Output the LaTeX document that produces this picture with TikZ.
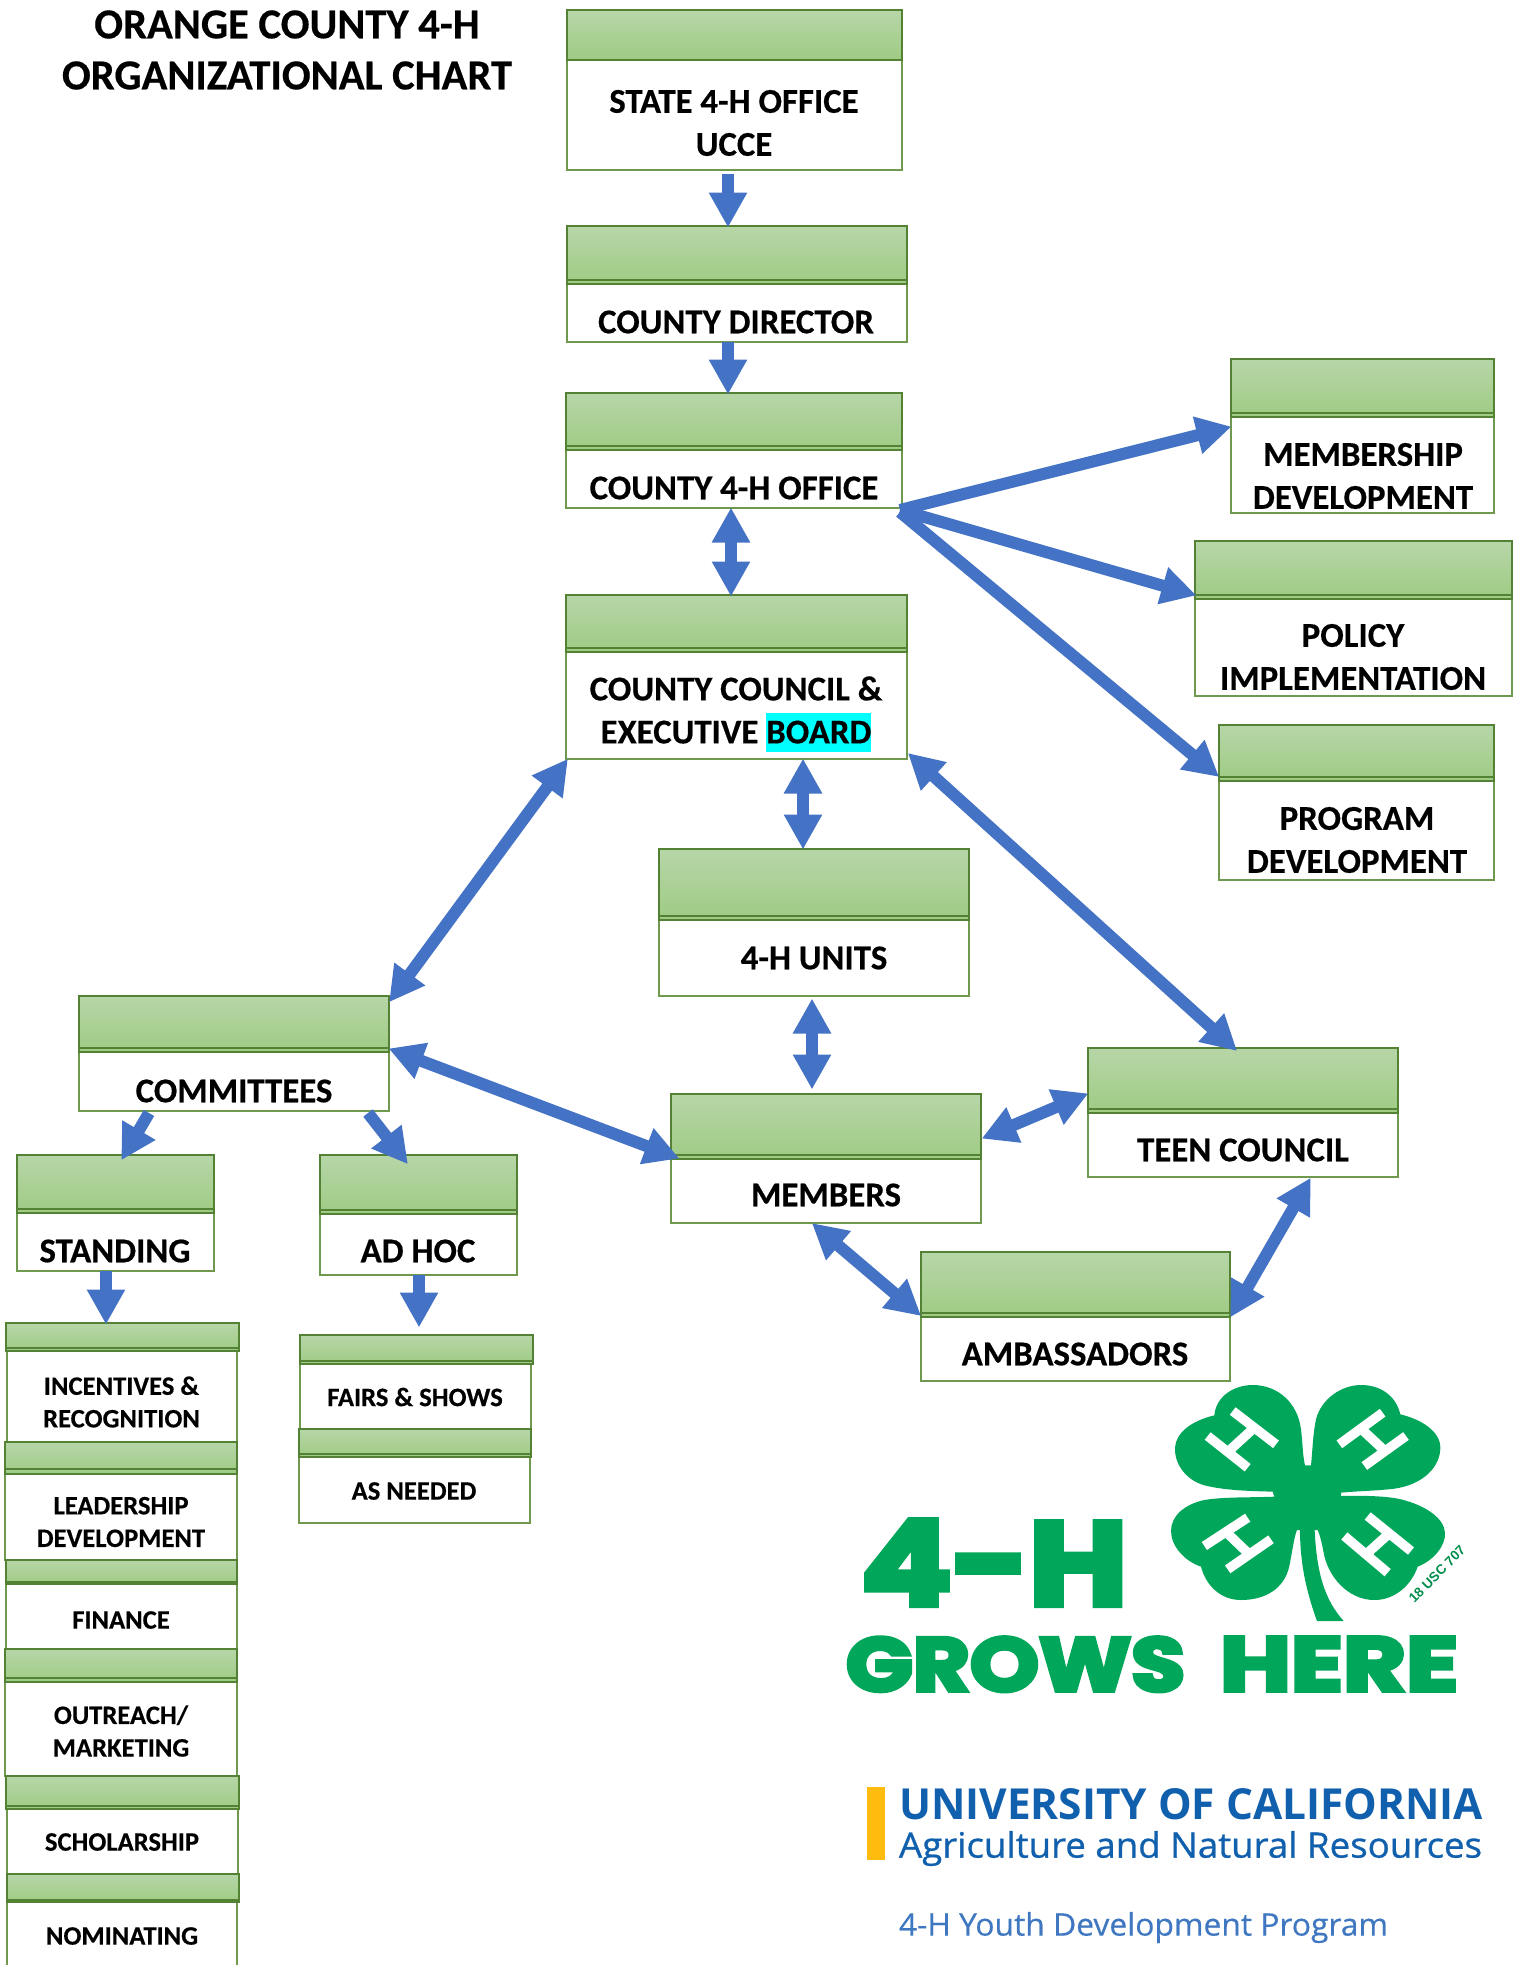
\documentclass[tikz,border=0pt]{standalone}
\usepackage{fontspec}
\usepackage{graphicx}
\setmainfont[BoldFeatures={FakeBold=0.4}]{Carlito}
\newfontfamily\logof[BoldFeatures={FakeBold=5}]{Poppins}
\newfontfamily\ucf{Open Sans}
\newfontfamily\ucm[FakeBold=0.8]{Open Sans}
\newfontfamily\ucs[FakeBold=0.4]{Open Sans}
\newfontfamily\usc{Liberation Sans}
\usetikzlibrary{arrows.meta}
\definecolor{hdtop}{HTML}{B7D6A8}
\definecolor{hdbot}{HTML}{9FCB84}
\definecolor{hdline}{HTML}{548235}
\definecolor{bdline}{HTML}{6F9A4E}
\definecolor{arrowblue}{HTML}{4472C4}
\definecolor{hlcyan}{HTML}{00FFFF}
\definecolor{fourh}{HTML}{00A65A}
\definecolor{ucblue}{HTML}{1160AE}
\definecolor{ucgold}{HTML}{FFBC0F}
\definecolor{ucsoft}{HTML}{3F78C0}
\tikzset{
  headbox/.style={rectangle,draw=hdline,line width=1.4pt,top color=hdtop,bottom color=hdbot,inner sep=0pt,outer sep=0pt,anchor=north west},
  bodybox/.style={rectangle,draw=bdline,line width=1.4pt,fill=white,inner sep=0pt,outer sep=0pt,anchor=north west},
  headline/.style={draw=hdline,line width=1.4pt},
  lbl/.style={inner sep=0pt,align=center,text=black,font=\fontsize{34.8}{43}\selectfont\bfseries},
  lblsmall/.style={inner sep=0pt,align=center,text=black,font=\fontsize{26.6}{32.6}\selectfont\bfseries},
  lbltitle/.style={inner sep=0pt,align=center,text=black,font=\fontsize{42.6}{51}\selectfont\bfseries},
  blockone/.style={draw=arrowblue,line width=12pt,-{Triangle[width=36pt,length=35pt,sep=-1.5pt]},arrowblue},
  blocktwo/.style={draw=arrowblue,line width=12pt,{Triangle[width=36pt,length=35pt,sep=-1.5pt]}-{Triangle[width=36pt,length=35pt,sep=-1.5pt]},arrowblue},
  logotext/.style={inner sep=0pt,outer sep=0pt,anchor=north west},
  leaf/.style={fill=fourh,draw=none},
  hbar/.style={draw=white,line width=9.5pt},
}
% name, hx1, hx2, y1, ya, yb, bx1, bx2, y3
\newcommand{\orgbox}[9]{%
  \pgfmathsetmacro\obHW{#3-#2}\pgfmathsetmacro\obHH{#6-#4}%
  \pgfmathsetmacro\obBW{#8-#7}\pgfmathsetmacro\obBH{#9-#6}\pgfmathsetmacro\obD{#6-#5}%
  \node[bodybox,minimum width=\obBW pt,minimum height=\obBH pt] (#1) at (#7,#6) {};
  \node[headbox,minimum width=\obHW pt,minimum height=\obHH pt] (#1H) at (#2,#4) {};
  \draw[headline] ([yshift=\obD pt]#1H.south west) -- ([yshift=\obD pt]#1H.south east);
}
\begin{document}
\begin{tikzpicture}[x=1pt,y=-1pt]
\path[use as bounding box,clip] (0,0) rectangle (1521,1965);
\fill[white] (0,0) rectangle (1521,1965);

\begin{scope}[shift={(1,1)}]
\node[lbltitle] (title) at (286,49) {ORANGE COUNTY 4-H\\ORGANIZATIONAL CHART};

\orgbox{state}{566}{901}{9}{59}{59}{566}{901}{169}
\orgbox{dir}{566}{906}{225}{279}{283}{566}{906}{341}
\orgbox{office}{565}{901}{392}{445}{449}{565}{901}{507}
\orgbox{council}{565}{906}{594}{647}{651}{565}{906}{758}
\orgbox{units}{658}{968}{848}{915}{919}{658}{968}{995}
\orgbox{comm}{78}{388}{995}{1047}{1051}{78}{388}{1110}
\orgbox{teen}{1087}{1397}{1047}{1108}{1112}{1087}{1397}{1176}
\orgbox{members}{670}{980}{1093}{1154}{1158}{670}{980}{1222}
\orgbox{amb}{920}{1229}{1251}{1312}{1316}{920}{1229}{1380}
\orgbox{standing}{16}{213}{1154}{1208}{1212}{16}{213}{1270}
\orgbox{adhoc}{319}{516}{1154}{1209}{1213}{319}{516}{1274}
\orgbox{membership}{1230}{1493}{358}{412}{416}{1230}{1493}{512}
\orgbox{policy}{1194}{1511}{540}{594}{598}{1194}{1511}{695}
\orgbox{program}{1218}{1493}{724}{776}{780}{1218}{1493}{879}
% left column
\orgbox{inc}{5}{238}{1322}{1347}{1350}{6}{236}{1441}
\orgbox{lead}{4}{236}{1441}{1468}{1473}{4}{236}{1559}
\orgbox{fin}{5}{236}{1559}{1581}{1583}{5}{236}{1648}
\orgbox{out}{4}{236}{1648}{1677}{1681}{4}{236}{1775}
\orgbox{sch}{5}{238}{1775}{1805}{1808}{6}{237}{1873}
\orgbox{nom}{6}{238}{1873}{1899}{1901}{6}{236}{1985}
\orgbox{fairs}{299}{532}{1334}{1360}{1363}{299}{530}{1428}
\orgbox{asneeded}{298}{530}{1428}{1453}{1456}{298}{529}{1522}

\node[lbl] (stateT) at (733,122) {STATE 4-H OFFICE\\UCCE};
\node[lbl] (dirT) at (735,321) {COUNTY DIRECTOR};
\node[lbl] (officeT) at (733,487) {COUNTY 4-H OFFICE};
\node[lbl] (councilT) at (735,709) {COUNTY COUNCIL \&\\EXECUTIVE \smash{\setlength{\fboxsep}{0pt}\colorbox{hlcyan}{\rule[-9pt]{0pt}{39pt}BOARD}}};
\node[lbl] (unitsT) at (813,957) {4-H UNITS};
\node[lbl] (commT) at (233,1090) {COMMITTEES};
\node[lbl] (standingT) at (114,1250) {STANDING};
\node[lbl] (adhocT) at (417,1250) {AD HOC};
\node[lbl] (teenT) at (1242,1149) {TEEN COUNCIL};
\node[lbl] (membersT) at (825,1194) {MEMBERS};
\node[lbl] (ambT) at (1074,1353) {AMBASSADORS};
\node[lbl] (membershipT) at (1362,475) {MEMBERSHIP\\DEVELOPMENT};
\node[lbl] (policyT) at (1352,656) {POLICY\\IMPLEMENTATION};
\node[lbl] (programT) at (1356,839) {PROGRAM\\DEVELOPMENT};
\node[lblsmall] (incT) at (120.5,1401) {INCENTIVES \&\\RECOGNITION};
\node[lblsmall] (leadT) at (120,1521) {LEADERSHIP\\DEVELOPMENT};
\node[lblsmall] (finT) at (120,1619) {FINANCE};
\node[lblsmall] (outT) at (120,1730) {OUTREACH/\\MARKETING};
\node[lblsmall] (schT) at (121,1841) {SCHOLARSHIP};
\node[lblsmall] (nomT) at (121,1935) {NOMINATING};
\node[lblsmall] (fairsT) at (414,1396) {FAIRS \& SHOWS};
\node[lblsmall] (asneededT) at (413,1490) {AS NEEDED};

% connectors
\draw[blockone] ([xshift=-6.5pt,yshift=-4pt]state.south) -- ([xshift=-9pt]dirH.north);
\draw[blockone] ([xshift=-9pt]dir.south) -- ([xshift=-6pt]officeH.north);
\draw[blocktwo] ([xshift=-3pt,yshift=-1pt]office.south) -- ([xshift=-5.5pt]councilH.north);
\draw[blockone] ([xshift=-2pt,yshift=-2pt]office.south east) -- ([xshift=-1pt,yshift=-39pt]membershipH.west);
\draw[blockone] ([xshift=-2pt,yshift=-2pt]office.south east) -- ([yshift=4pt]policyH.south west);
\draw[blockone] ([xshift=-2pt,yshift=-4pt]office.south east) -- ([xshift=-1pt,yshift=5pt]programH.south west);
\draw[blocktwo] ([xshift=1pt,yshift=-1pt]council.south west) -- ([xshift=1pt,yshift=-5pt]commH.north east);
\draw[blocktwo] ([xshift=66.5pt,yshift=-1pt]council.south) -- ([xshift=-11pt,yshift=1pt]unitsH.north);
\draw[blocktwo] ([xshift=-2pt,yshift=-4pt]units.south) -- ([xshift=-14pt,yshift=6pt]membersH.north);
\draw[blocktwo] ([xshift=1pt,yshift=3pt]commH.south east) -- ([xshift=7pt,yshift=1pt]membersH.south west);
\draw[blockone] ([xshift=134pt,yshift=-2pt]comm.south) -- ([xshift=-11.5pt,yshift=-8pt]adhocH.north);
\draw[blockone] ([xshift=-85pt,yshift=-2pt]comm.south) -- ([xshift=6.5pt,yshift=-4pt]standingH.north);
\draw[blockone] ([xshift=-9.5pt]standing.south) -- ([xshift=-16.5pt]incH.north);
\draw[blockone] ([xshift=.5pt]adhoc.south) -- ([xshift=2.5pt,yshift=9pt]fairsH.north);
\draw[blocktwo] ([xshift=2pt,yshift=-11.5pt]membersH.east) -- ([xshift=-1pt,yshift=-13.5pt]teenH.west);
\draw[blocktwo] ([xshift=-13pt,yshift=-1pt]members.south) -- ([xshift=-1pt,yshift=-30.5pt]ambH.west);
\draw[blocktwo] ([xshift=67pt,yshift=-2pt]teen.south) -- ([xshift=1pt,yshift=-31.5pt]ambH.east);
\draw[blocktwo] ([xshift=2pt,yshift=-48.5pt]council.east) -- ([xshift=-7pt,yshift=-2pt]teenH.north);
\end{scope}

% clover
\begin{scope}[shift={(1161,1376)},x=.33333pt,y=-.33333pt]
\fill[leaf] (432,268) -- (450,268) -- (540,350) -- (540,360) -- (470,462) -- (408,462) -- (340,362) -- (335,347) -- cycle;
\fill[leaf] (440,355) -- (335,347) .. controls (280,345) and (200,345) .. (130,328) .. controls (70,310) and (40,260) .. (42,215) .. controls (45,170) and (90,135) .. (160,118) .. controls (165,60) and (220,27) .. (275,27) .. controls (350,27) and (410,80) .. (420,160) .. controls (425,200) and (425,240) .. (432,268) -- cycle;
\fill[leaf] (440,355) -- (450,268) .. controls (455,220) and (455,180) .. (465,130) .. controls (480,70) and (540,27) .. (600,27) .. controls (660,27) and (705,60) .. (718,115) .. controls (780,130) and (838,165) .. (838,215) .. controls (838,270) and (790,325) .. (700,338) .. controls (640,345) and (590,345) .. (540,350) -- cycle;
\fill[leaf] (440,355) -- (540,360) .. controls (600,358) and (680,360) .. (720,370) .. controls (800,390) and (850,430) .. (852,470) .. controls (855,510) and (815,555) .. (770,572) .. controls (750,630) and (700,672) .. (640,672) .. controls (560,672) and (500,600) .. (488,530) .. controls (482,500) and (478,480) .. (470,462) -- cycle;
\fill[leaf] (440,355) -- (408,462) .. controls (400,480) and (395,520) .. (385,570) .. controls (370,640) and (310,672) .. (240,672) .. controls (180,672) and (135,630) .. (120,572) .. controls (70,555) and (30,510) .. (30,465) .. controls (30,420) and (70,385) .. (130,372) .. controls (190,362) and (270,365) .. (340,362) -- cycle;
\fill[leaf] (416,440) .. controls (418,500) and (415,590) .. (468,735) -- (548,735) .. controls (490,670) and (465,590) .. (460,440) -- cycle;
\draw[hbar] (140,180) -- (260,275) (215,105) -- (345,205) (200,228) -- (280,155);
\draw[hbar] (535,205) -- (665,110) (610,270) -- (735,180) (600,158) -- (672,225);
\draw[hbar] (130,510) -- (260,425) (200,580) -- (330,490) (195,468) -- (265,535);
\draw[hbar] (550,480) -- (680,590) (620,420) -- (750,525) (615,535) -- (685,472);
\end{scope}
\node[inner sep=0pt,text=fourh!85!black,rotate=45] (uscT) at (1437,1574) {\usc\fontsize{13.5}{13.5}\selectfont\bfseries 18 USC 707};

\node[logotext,text=fourh] (fourH) at (861,1520) {\resizebox{266pt}{85pt}{\logof\bfseries 4-H}};
\node[logotext,text=fourh] (grows) at (846,1637) {\resizebox{339pt}{54pt}{\logof\bfseries GROWS}\hspace{35pt}\resizebox{238pt}{54pt}{\logof\bfseries HERE}};

\node[fill=ucgold,inner sep=0pt,minimum width=18pt,minimum height=73pt,anchor=north west] (ucbar) at (867,1787) {};
\node[logotext,text=ucblue] (uc) at (899,1788) {\resizebox{584pt}{31pt}{\ucf\bfseries UNIVERSITY OF CALIFORNIA}};
\node[logotext,text=ucblue] (anr) at (899,1831) {\resizebox*{583pt}{35pt}{\ucm Agriculture and Natural Resources}};
\node[logotext,text=ucsoft] (youth) at (899,1912) {\resizebox*{489pt}{31pt}{\ucs 4-H Youth Development Program}};
\end{tikzpicture}
\end{document}
